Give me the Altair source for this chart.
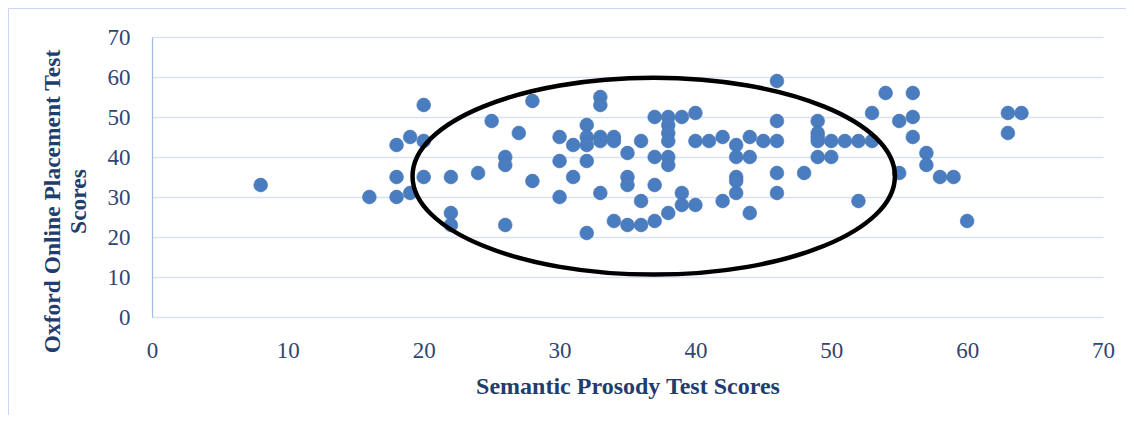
import altair as alt
import pandas as pd

# Semantic Prosody Test Scores (x) and Oxford Online Placement Test Scores (y)
semantic = [8, 16, 18, 18, 18, 19, 19, 20, 20, 20, 22, 22, 22, 24, 25, 26, 26, 26, 27, 28, 28,
            30, 30, 30, 31, 31, 32, 32, 32, 32, 32, 33, 33, 33, 33, 33, 34, 34, 34,
            35, 35, 35, 35, 36, 36, 36, 37, 37, 37, 37, 38, 38, 38, 38, 38, 38, 38,
            39, 39, 39, 40, 40, 40, 41, 42, 42, 43, 43, 43, 43, 43, 44, 44, 44, 45,
            46, 46, 46, 46, 46, 48, 49, 49, 49, 49, 49, 50, 50, 51, 52, 52, 53, 53,
            54, 55, 55, 56, 56, 56, 57, 57, 58, 59, 60, 63, 63, 64]
oxford = [33, 30, 43, 35, 30, 45, 31, 53, 44, 35, 35, 26, 23, 36, 49, 40, 38, 23, 46, 54, 34,
          45, 39, 30, 43, 35, 48, 45, 43, 39, 21, 55, 53, 45, 44, 31, 45, 44, 24,
          41, 35, 33, 23, 44, 29, 23, 50, 40, 33, 24, 50, 48, 46, 44, 40, 38, 26,
          50, 31, 28, 51, 44, 28, 44, 45, 29, 43, 40, 35, 34, 31, 45, 40, 26, 44,
          59, 49, 44, 36, 31, 36, 49, 46, 45, 44, 40, 44, 40, 44, 44, 29, 51, 44,
          56, 49, 36, 56, 50, 45, 41, 38, 35, 35, 24, 51, 46, 51]

# Hand-drawn ellipse annotation (centre in data units)
ellipse_x = [36.93]
ellipse_y = [35.2]

axis_ticks = [0, 10, 20, 30, 40, 50, 60, 70]

df = pd.DataFrame({"x": semantic, "y": oxford})
ell = pd.DataFrame({"x": ellipse_x, "y": ellipse_y})

W, H = 951, 280
label_color = "#2e4674"
title_color = "#1f3d6e"
font = "Liberation Serif"

xscale = alt.Scale(domain=[0, 70], nice=False, zero=True)
yscale = alt.Scale(domain=[0, 70], nice=False, zero=True)

x_axis = alt.Axis(values=axis_ticks, grid=False, domain=False, ticks=False, tickSize=0,
                  labelPadding=40, labelBaseline="alphabetic", labelFlush=False,
                  labelOverlap=False,
                  labelFont=font, labelFontSize=23, labelColor=label_color,
                  title="Semantic Prosody Test Scores", titleFont=font,
                  titleFontSize=24, titleFontWeight="bold", titleColor=title_color,
                  titleBaseline="alphabetic", titleY=76)
y_axis = alt.Axis(values=axis_ticks, grid=True, gridColor="#d6e1f1", gridWidth=1.6,
                  domain=True, domainColor="#9fbbe2", domainWidth=1.2,
                  ticks=False, tickSize=0, labelPadding=22, labelFlush=False,
                  labelOverlap=False,
                  labelFont=font, labelFontSize=23, labelColor=label_color,
                  title=["Oxford Online Placement Test", "Scores"], titleFont=font,
                  titleFontSize=23.5, titleFontWeight="bold", titleColor=title_color,
                  titleAngle=-90, titleAlign="center", titleBaseline="middle",
                  titleLineHeight=26, titleX=-100, titleY=164)

points = alt.Chart(df).mark_circle(size=190, color="#4a7dc0", opacity=1,
                                   stroke="#4474b4", strokeWidth=0.6).encode(
    x=alt.X("x:Q", scale=xscale, axis=x_axis),
    y=alt.Y("y:Q", scale=yscale, axis=y_axis),
)

ellipse = alt.Chart(ell).mark_point(
    shape="M -1 0 A 1 0.408 0 1 1 1 0 A 1 0.408 0 1 1 -1 0 Z",
    filled=False, stroke="black", strokeWidth=4.5, opacity=1,
).encode(
    x=alt.X("x:Q", scale=xscale, axis=x_axis),
    y=alt.Y("y:Q", scale=yscale, axis=y_axis),
    size=alt.value(232700),
)

# light outer chart-area frame (left and top edges; the rest lies outside the window)
frame_left = alt.Chart(ell).mark_rule(color="#c6d9f0", strokeWidth=1).encode(
    x=alt.value(-143.5), y=alt.value(-28.5), y2=alt.value(H + 200),
)
frame_top = alt.Chart(ell).mark_rule(color="#c6d9f0", strokeWidth=1).encode(
    x=alt.value(-143.5), x2=alt.value(W + 200), y=alt.value(-28.5),
)

chart = alt.layer(frame_left, frame_top, points, ellipse).properties(
    width=W, height=H,
    background="white",
    autosize=alt.AutoSizeParams(type="none"),
    padding={"left": 144, "top": 29, "right": 23, "bottom": 98},
).configure_view(strokeWidth=0, stroke="transparent")

chart.save("out.html", embed_options={"renderer": "svg", "actions": False})
